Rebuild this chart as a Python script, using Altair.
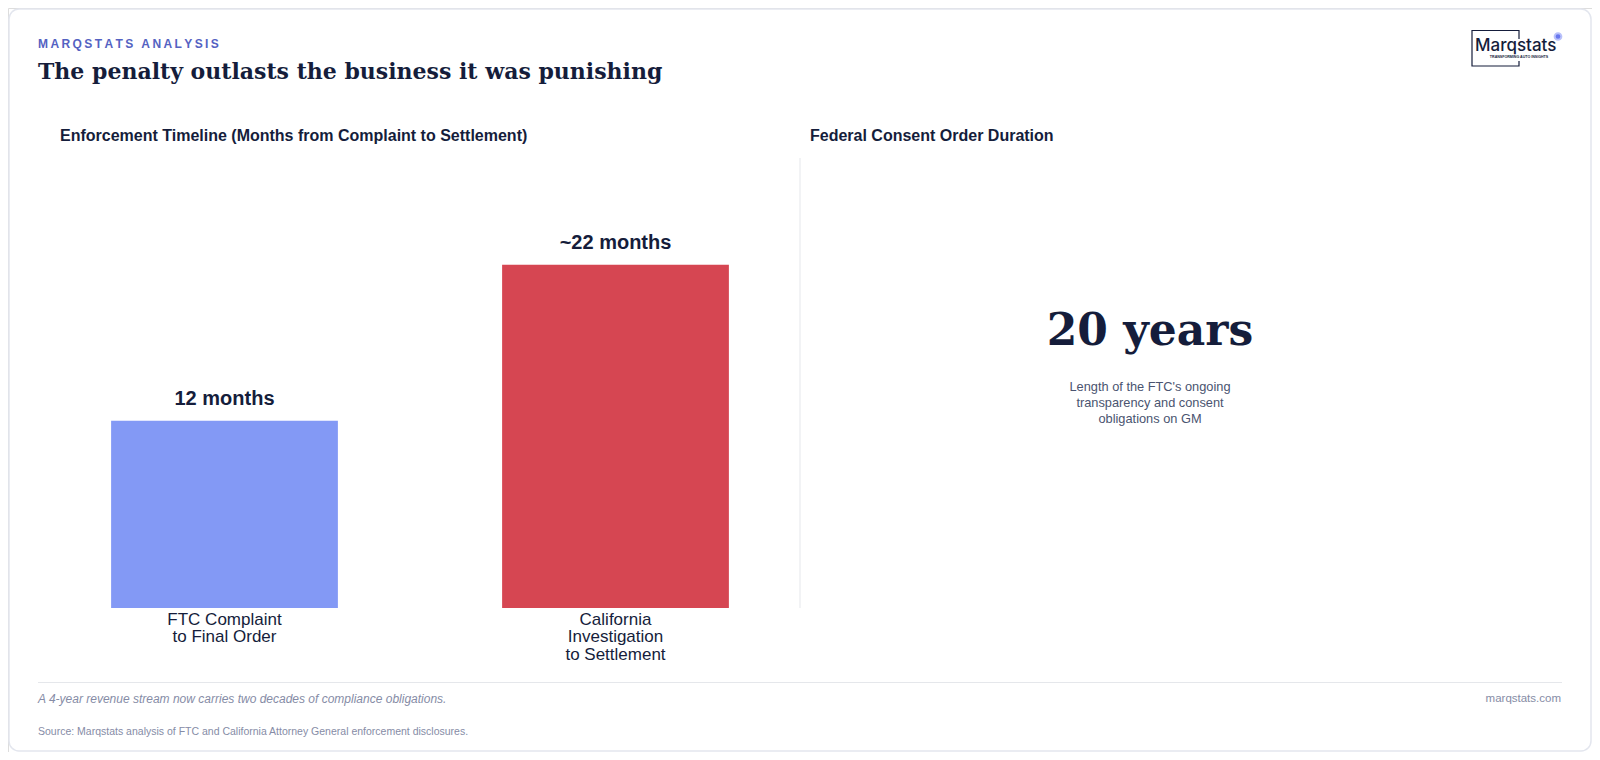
import altair as alt
import pandas as pd

# ---- data ----
categories = ["FTC Complaint\nto Final Order", "California\nInvestigation\nto Settlement"]
months = [12, 22]
value_labels = ["12 months", "~22 months"]
bar_colors = ["#8399f5", "#d64652"]

kicker = "MARQSTATS ANALYSIS"
title = "The penalty outlasts the business it was punishing"
left_title = "Enforcement Timeline (Months from Complaint to Settlement)"
right_title = "Federal Consent Order Duration"
big_number = "20 years"
big_caption = "Length of the FTC's ongoing\ntransparency and consent\nobligations on GM"
footnote = "A 4-year revenue stream now carries two decades of compliance obligations."
site = "marqstats.com"
source = "Source: Marqstats analysis of FTC and California Attorney General enforcement disclosures."

W, H = 1584, 744
NAVY = "#151d3b"
MUTED = "#868ca6"

bars_df = pd.DataFrame({"cat": categories, "months": months, "label": value_labels, "color": bar_colors})
one = pd.DataFrame({"k": [0]})


def txt(text, x, y, size, color=NAVY, weight="normal", font="Liberation Sans", align="left",
        baseline="middle", style="normal", line_height=None):
    kw = dict(text=text, fontSize=size, color=color, fontWeight=weight, font=font,
              align=align, baseline=baseline, fontStyle=style)
    if line_height:
        kw["lineHeight"] = line_height
        kw["lineBreak"] = "\n"
    return alt.Chart(one).mark_text(**kw).encode(x=alt.value(x), y=alt.value(y))


spaced_kicker = "\u2009".join(list(kicker))

xs = alt.Scale(domain=categories, range=[21, 803], paddingInner=0.42, paddingOuter=0.21)
ys = alt.Scale(domain=[0, 28.85], range=[600, 150], nice=False, zero=True)

card = alt.Chart(one).mark_rect(fill="white", stroke="#e3e6ee", strokeWidth=1.5, cornerRadius=10).encode(
    x=alt.value(1), x2=alt.value(W - 1), y=alt.value(1), y2=alt.value(H - 1))

base = alt.Chart(bars_df)
bars = base.mark_bar().encode(
    x=alt.X("cat:N", scale=xs, axis=None, sort=categories),
    y=alt.Y("months:Q", scale=ys, axis=None),
    color=alt.Color("color:N", scale=None, legend=None),
)
vlabels = base.mark_text(fontSize=20, fontWeight="bold", font="Liberation Sans", color=NAVY,
                         baseline="alphabetic", dy=-16).encode(
    x=alt.X("cat:N", scale=xs, axis=None, sort=categories),
    y=alt.Y("months:Q", scale=ys, axis=None),
    text="label:N",
)
cat_labels = base.mark_text(fontSize=17, font="Liberation Sans", color=NAVY, baseline="alphabetic",
                            lineBreak="\n", lineHeight=17.5).encode(
    x=alt.X("cat:N", scale=xs, axis=None, sort=categories),
    y=alt.value(616.5),
    text="cat:N",
)

divider = alt.Chart(one).mark_rule(color="#e5e7eb", strokeWidth=1).encode(
    x=alt.value(792), y=alt.value(150), y2=alt.value(600))
footer_rule = alt.Chart(one).mark_rule(color="#e5e7eb", strokeWidth=1).encode(
    x=alt.value(30), x2=alt.value(1554), y=alt.value(674.5))

logo_box = alt.Chart(one).mark_rect(fill=None, stroke=NAVY, strokeWidth=1.2).encode(
    x=alt.value(1464), x2=alt.value(1511), y=alt.value(22.5), y2=alt.value(58))
logo_mask = alt.Chart(one).mark_rect(fill="white").encode(
    x=alt.value(1508), x2=alt.value(1514), y=alt.value(31), y2=alt.value(53))
logo_dot = alt.Chart(one).mark_point(filled=True, color="#6877ee", size=45, opacity=1,
                                     stroke="#b9c1fa", strokeWidth=2).encode(
    x=alt.value(1550), y=alt.value(28.5))

layers = [
    card, bars, vlabels, cat_labels, divider, footer_rule,
    txt(spaced_kicker, 30, 36, 12, color="#5462c2", weight="bold"),
    txt(title, 30, 63.5, 22, weight="bold", font="DejaVu Serif"),
    txt(left_title, 52, 128, 16, weight="bold"),
    txt(right_title, 802, 128, 16, weight="bold"),
    txt(big_number, 1142, 324, 44, weight="bold", font="DejaVu Serif", align="center"),
    txt(big_caption, 1142, 378.5, 12.8, color="#4a5470", align="center", line_height=16.2),
    txt(footnote, 30, 691, 12, color=MUTED, style="italic"),
    txt(site, 1553, 690.5, 11.5, color=MUTED, align="right"),
    txt(source, 30, 724, 10.5, color=MUTED),
    logo_box, logo_mask,
    txt("Marqstats", 1467, 37.5, 17, weight=500, font="Inter"),
    txt("TRANSFORMING AUTO INSIGHTS", 1511, 48.5, 3.6, align="center", weight="bold"),
    logo_dot,
]

chart = alt.layer(*layers).properties(
    width=W, height=H, autosize=alt.AutoSizeParams(type="none"), padding=0
).configure_view(
    stroke=None, fill="white"
).configure(background="white")

chart.save("out.html", embed_options={"renderer": "svg", "actions": False})
